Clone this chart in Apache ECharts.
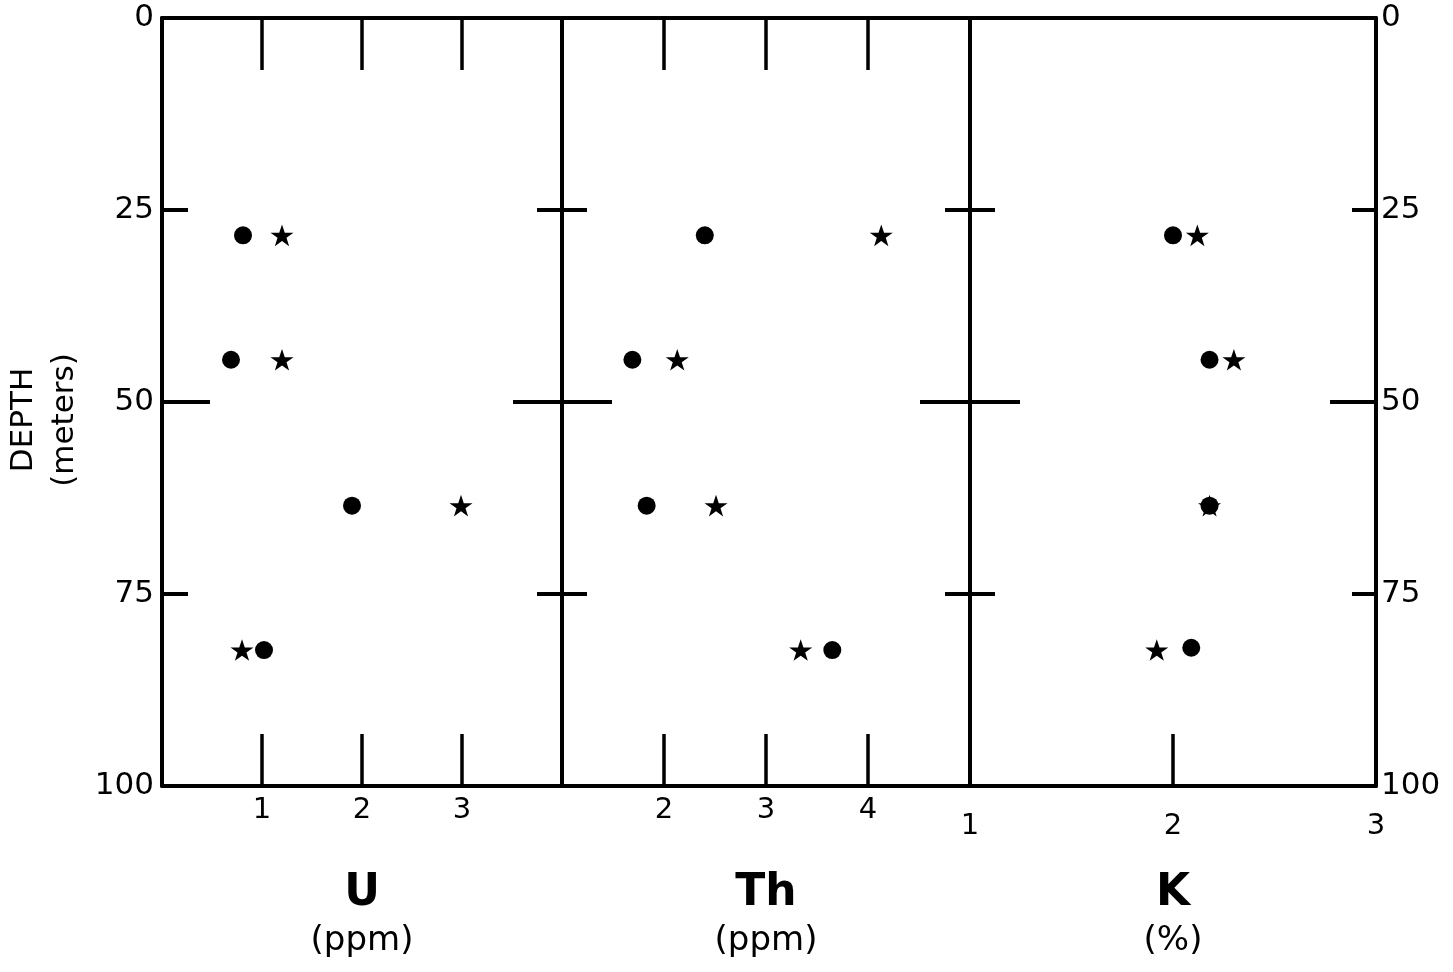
<!DOCTYPE html>
<html>
<head>
<meta charset="utf-8">
<script src="https://cdn.jsdelivr.net/npm/echarts@6/dist/echarts.min.js"></script>
<style>
html,body{margin:0;padding:0;background:#fff;}
#chart{width:1453px;height:972px;}
</style>
</head>
<body>
<div id="chart"></div>
<script>
// Depth ticks (meters)
const depthTicks = [0, 25, 50, 75, 100];
// Sample depths (meters) for the four sampled levels
const depths = [28.3, 44.5, 63.5, 82.3];
const depthsCircleK = [28.3, 44.5, 63.5, 82.0];
// U (ppm)
const uCircle = [0.81, 0.69, 1.90, 1.02];
const uStar   = [1.20, 1.20, 2.99, 0.80];
// Th (ppm)
const thCircle = [2.40, 1.69, 1.83, 3.65];
const thStar   = [4.13, 2.13, 2.51, 3.34];
// K (%)
const kCircle = [2.00, 2.18, 2.18, 2.09];
const kStar   = [2.12, 2.30, 2.18, 1.92];
// Panel titles
const panelNames = ['U', 'Th', 'K'];
const panelUnits = ['(ppm)', '(ppm)', '(%)'];

const FONT = 'DejaVu Sans';
const INK = '#000';
const LW = 4;
const STAR = 'path://M50,0 L61.8,35.1 L98.9,35.1 L69.1,56.7 L80.3,91.9 L50,70 L19.7,91.9 L30.9,56.7 L1.1,35.1 L38.2,35.1 Z';

function pairs(xs, ys) { return xs.map((v, i) => [v, ys[i]]); }

const chart = echarts.init(document.getElementById('chart'));

const grids = [
  {left: 162, right: 891, top: 18, bottom: 186},
  {left: 562, right: 483, top: 18, bottom: 186},
  {left: 970, right: 77, top: 18, bottom: 186}
];

function yAx(gi, pos, interval, len, showLabel, showLine) {
  return {
    type: 'value', gridIndex: gi, position: pos, inverse: true,
    min: 0, max: 100, interval: interval,
    axisLine: {show: showLine, onZero: false, lineStyle: {color: INK, width: LW}},
    axisTick: {show: true, inside: true, length: len, lineStyle: {color: INK, width: LW}},
    axisLabel: {show: showLabel, color: INK, fontFamily: FONT, fontSize: 31, margin: pos === 'left' ? 8 : 5},
    splitLine: {show: false}
  };
}

const yAxes = [
  yAx(0, 'left', 25, 26, true, true),
  yAx(0, 'left', 50, 48, false, false),
  yAx(0, 'right', 25, 25, false, true),
  yAx(0, 'right', 50, 49, false, false),
  yAx(1, 'left', 25, 25, false, true),
  yAx(1, 'left', 50, 50, false, false),
  yAx(1, 'right', 25, 25, false, true),
  yAx(1, 'right', 50, 50, false, false),
  yAx(2, 'left', 25, 25, false, true),
  yAx(2, 'left', 50, 50, false, false),
  yAx(2, 'right', 25, 24, true, true),
  yAx(2, 'right', 50, 46, false, false)
];

function xAx(gi, pos, min, max, opts) {
  return Object.assign({
    type: 'value', gridIndex: gi, position: pos, min: min, max: max, interval: 1,
    axisLine: {show: true, onZero: false, lineStyle: {color: INK, width: LW}},
    axisTick: {show: opts.ticks, inside: true, length: 52, lineStyle: {color: INK, width: 3.5}},
    axisLabel: {show: opts.labels, color: INK, fontFamily: FONT, fontSize: 29,
      margin: opts.margin || 10, showMinLabel: opts.showMin, showMaxLabel: opts.showMax},
    splitLine: {show: false}
  }, opts.extra || {});
}

function titleName(i) {
  return {
    name: '{b|' + panelNames[i] + '}\n{s|' + panelUnits[i] + '}',
    nameLocation: 'middle', nameGap: 84,
    nameTextStyle: {
      color: INK, fontFamily: FONT,
      rich: {
        b: {fontSize: 44, fontWeight: 'bold', lineHeight: 48, color: INK, fontFamily: FONT, align: 'center'},
        s: {fontSize: 34, lineHeight: 46, color: INK, fontFamily: FONT, align: 'center'}
      }
    }
  };
}

const xAxes = [
  xAx(0, 'bottom', 0, 4, {ticks: true, labels: true, showMin: false, showMax: false, margin: 10, extra: titleName(0)}),
  xAx(0, 'top', 0, 4, {ticks: true, labels: false}),
  xAx(1, 'bottom', 1, 5, {ticks: true, labels: true, showMin: false, showMax: false, margin: 10, extra: titleName(1)}),
  xAx(1, 'top', 1, 5, {ticks: true, labels: false}),
  xAx(2, 'bottom', 1, 3, {ticks: true, labels: true, showMin: true, showMax: true, margin: 26, extra: titleName(2)}),
  xAx(2, 'top', 1, 3, {ticks: false, labels: false})
];

function starSeries(xi, yi, data) {
  return {type: 'scatter', xAxisIndex: xi, yAxisIndex: yi, symbol: STAR, symbolKeepAspect: true,
    symbolSize: 23, itemStyle: {color: INK, opacity: 1}, data: data, z: 3, silent: true};
}
function circleSeries(xi, yi, data) {
  return {type: 'scatter', xAxisIndex: xi, yAxisIndex: yi, symbol: 'circle',
    symbolSize: 18, itemStyle: {color: INK, opacity: 1}, data: data, z: 4, silent: true};
}

const option = {
  animation: false,
  backgroundColor: '#fff',
  textStyle: {fontFamily: FONT, color: INK},
  grid: grids,
  xAxis: xAxes,
  yAxis: yAxes,
  graphic: [{
    type: 'text', x: 44, y: 420, rotation: Math.PI / 2,
    style: {text: 'DEPTH\n(meters)', fill: INK, font: '31px "DejaVu Sans"', lineHeight: 41,
      textAlign: 'center', textVerticalAlign: 'middle', align: 'center', verticalAlign: 'middle'}
  }],
  series: [
    starSeries(0, 0, pairs(uStar, depths)),
    circleSeries(0, 0, pairs(uCircle, depths)),
    starSeries(2, 4, pairs(thStar, depths)),
    circleSeries(2, 4, pairs(thCircle, depths)),
    starSeries(4, 8, pairs(kStar, depths)),
    circleSeries(4, 8, pairs(kCircle, depthsCircleK))
  ]
};
chart.setOption(option);
</script>
</body>
</html>
